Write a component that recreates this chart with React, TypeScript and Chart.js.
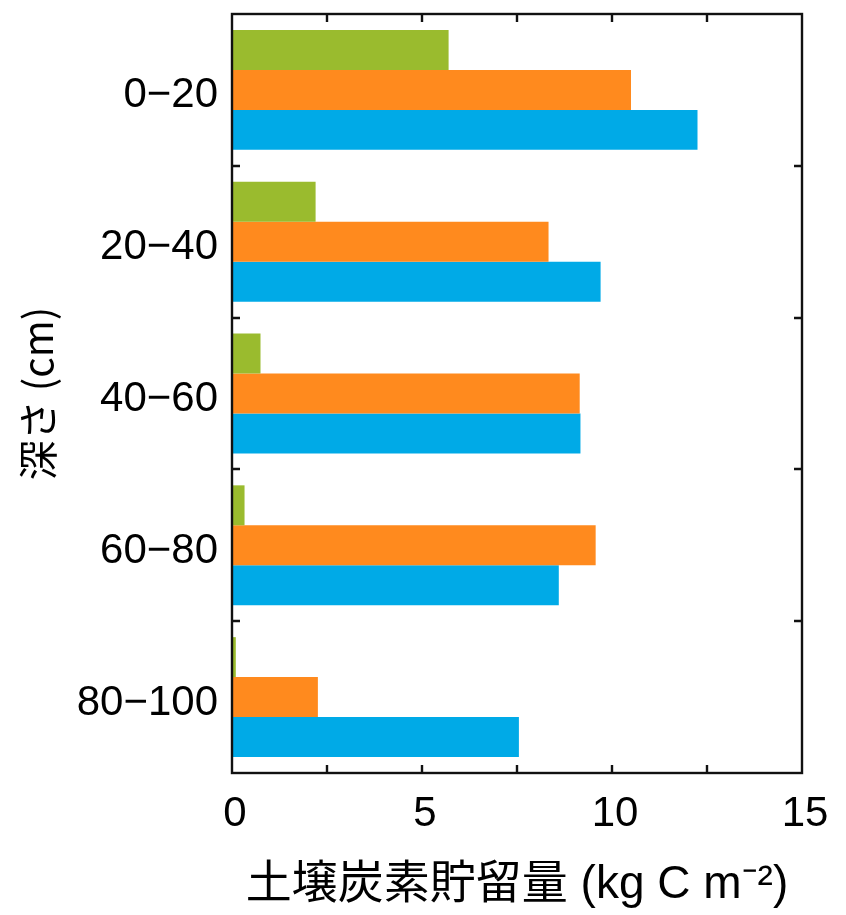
import React, { useEffect, useRef } from "react";
import { Chart, registerables } from "chart.js";

Chart.register(...registerables);

const categories = ["0−20", "20−40", "40−60", "60−80", "80−100"];
const seriesGreen = [5.7, 2.2, 0.75, 0.33, 0.1];
const seriesOrange = [10.5, 8.33, 9.15, 9.57, 2.26];
const seriesBlue = [12.25, 9.7, 9.17, 8.6, 7.55];
const xTicks = [0, 5, 10, 15];
const minorStep = 2.5;
const xTitle = "土壌炭素貯留量 (kg C m⁻²)";
const yTitle = "深さ (cm)";

const framePlugin = {
  id: "frame",
  afterDatasetsDraw(chart: any) {
    const { ctx, chartArea, scales } = chart;
    const { left, right, top, bottom } = chartArea;
    ctx.save();
    ctx.strokeStyle = "#111";
    ctx.lineWidth = 2.4;
    ctx.strokeRect(left, top, right - left, bottom - top);
    const tl = 8;
    ctx.beginPath();
    const xs = scales.x;
    for (let v = xs.min + minorStep; v < xs.max - 1e-9; v += minorStep) {
      const px = Math.round(xs.getPixelForValue(v));
      ctx.moveTo(px, bottom);
      ctx.lineTo(px, bottom - tl);
      ctx.moveTo(px, top);
      ctx.lineTo(px, top + tl);
    }
    const ys = scales.y;
    for (let i = 0; i < categories.length - 1; i++) {
      const py = Math.round((ys.getPixelForValue(i) + ys.getPixelForValue(i + 1)) / 2);
      ctx.moveTo(left, py);
      ctx.lineTo(left + tl, py);
      ctx.moveTo(right, py);
      ctx.lineTo(right - tl, py);
    }
    ctx.stroke();
    ctx.restore();
  },
};

export default function App() {
  const ref = useRef<HTMLCanvasElement | null>(null);
  useEffect(() => {
    if (!ref.current) return;
    const chart = new Chart(ref.current, {
      type: "bar",
      data: {
        labels: categories,
        datasets: [
          { label: "green", data: seriesGreen, backgroundColor: "#9ABB2E" },
          { label: "orange", data: seriesOrange, backgroundColor: "#FF8A1E" },
          { label: "blue", data: seriesBlue, backgroundColor: "#00AAE7" },
        ],
      },
      options: {
        indexAxis: "y",
        animation: false,
        responsive: true,
        maintainAspectRatio: false,
        layout: { padding: { top: 14, right: 44, left: 0, bottom: 0 } },
        datasets: { bar: { categoryPercentage: 0.79, barPercentage: 1 } },
        plugins: { legend: { display: false }, tooltip: { enabled: false } },
        scales: {
          x: {
            type: "linear",
            min: 0,
            max: 15,
            afterBuildTicks: (s: any) => {
              s.ticks = xTicks.map((v) => ({ value: v }));
            },
            afterFit: (s: any) => {
              s.height = 142;
              s.paddingLeft = 0;
              s.paddingRight = 0;
            },
            grid: { display: false, drawTicks: false },
            border: { display: false },
            ticks: {
              color: "#000",
              padding: 20,
              labelOffset: 3,
              font: { family: "'Liberation Sans', sans-serif", size: 42, lineHeight: 1 },
              maxRotation: 0,
            },
            title: {
              display: true,
              text: xTitle,
              color: "#000",
              font: { family: "'Liberation Sans', 'Noto Sans CJK JP', sans-serif", size: 46, lineHeight: 1.2 },
              padding: { top: 2, bottom: 2 },
            },
          },
          y: {
            type: "category",
            afterFit: (s: any) => {
              s.width = 232;
              s.paddingTop = 0;
              s.paddingBottom = 0;
            },
            grid: { display: false, drawTicks: false },
            border: { display: false },
            ticks: {
              color: "#000",
              padding: 14,
              labelOffset: 6,
              font: { family: "'Liberation Sans', sans-serif", size: 42, lineHeight: 1 },
            },
            title: {
              display: true,
              text: yTitle,
              color: "#000",
              font: { family: "'Noto Sans CJK JP', sans-serif", size: 40, lineHeight: 1.2 },
              padding: { top: 14, bottom: 0 },
            },
          },
        },
      },
      plugins: [framePlugin],
    });
    return () => chart.destroy();
  }, []);
  return (
    <div style={{ position: "fixed", left: 0, top: 0, width: 846, height: 915, background: "#fff" }}>
      <canvas ref={ref} />
    </div>
  );
}
